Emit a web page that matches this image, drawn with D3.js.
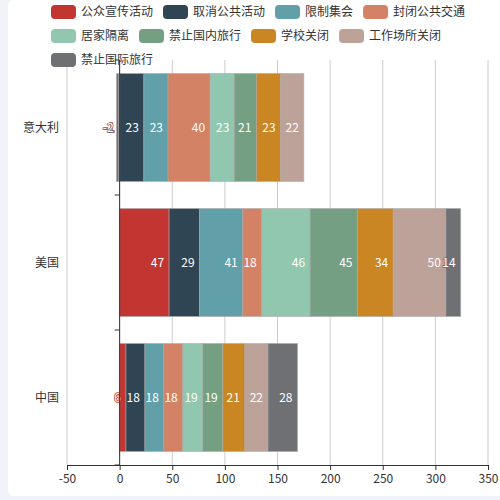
<!DOCTYPE html>
<html>
<head>
<meta charset="utf-8">
<script src="https://cdn.jsdelivr.net/npm/d3@7"></script>
<style>
  html, body { margin: 0; padding: 0; background: #f2f3f8; }
  svg { display: block; }
  text { font-family: "Noto Sans CJK SC", "Noto Sans", sans-serif; }
</style>
</head>
<body>
<div id="chart"></div>
<script>
// categories (bottom to top, like the category axis)
const countries = ['中国', '美国', '意大利'];

const seriesNames = ['公众宣传活动', '取消公共活动', '限制集会', '封闭公共交通',
  '居家隔离', '禁止国内旅行', '学校关闭', '工作场所关闭', '禁止国际旅行'];

// values per series, in order 中国, 美国, 意大利
const publicity     = [6, 47, -1];
const cancelEvents  = [18, 29, 23];
const limitGather   = [18, 41, 23];
const closeTransit  = [18, 18, 40];
const stayHome      = [19, 46, 23];
const domesticBan   = [19, 45, 21];
const schoolClose   = [21, 34, 23];
const workClose     = [22, 50, 22];
const intlBan       = [28, 14, -2];

const seriesValues = [publicity, cancelEvents, limitGather, closeTransit,
  stayHome, domesticBan, schoolClose, workClose, intlBan];

const xTicks = [-50, 0, 50, 100, 150, 200, 250, 300, 350];

const colors = ['#c23531', '#2f4554', '#61a0a8', '#d48265', '#91c7ae',
  '#749f83', '#ca8622', '#bda29a', '#6e7074'];

const W = 500, H = 500;
const grid = { left: 67, right: 488, top: 60, bottom: 465 };

const svg = d3.select('#chart').append('svg')
  .attr('width', W)
  .attr('height', H);

// card background
svg.append('rect')
  .attr('x', 8).attr('y', 0)
  .attr('width', 530).attr('height', 496)
  .attr('rx', 6)
  .attr('fill', '#fff');

const x = d3.scaleLinear()
  .domain([-50, 350])
  .range([grid.left, grid.right]);

const y = d3.scaleBand()
  .domain(countries.slice().reverse())
  .range([grid.top, grid.bottom])
  .paddingInner(0.2)
  .paddingOuter(0.1);

// vertical grid lines
svg.append('g')
  .selectAll('line')
  .data(xTicks)
  .enter()
  .append('line')
  .attr('x1', d => x(d)).attr('x2', d => x(d))
  .attr('y1', grid.top).attr('y2', grid.bottom)
  .attr('stroke', '#ccc')
  .attr('stroke-width', 1);

// stack: positives from 0 to the right, negatives from 0 to the left
const bars = [];
countries.forEach((c, ci) => {
  let pos = 0, neg = 0;
  seriesValues.forEach((vals, si) => {
    const v = vals[ci];
    let a, b;
    if (v >= 0) { a = pos; b = pos + v; pos = b; }
    else { a = neg + v; b = neg; neg = a; }
    bars.push({ country: c, series: si, value: v, x0: a, x1: b });
  });
});

svg.append('g')
  .selectAll('rect')
  .data(bars)
  .enter()
  .append('rect')
  .attr('x', d => x(d.x0))
  .attr('y', d => y(d.country))
  .attr('width', d => x(d.x1) - x(d.x0))
  .attr('height', y.bandwidth())
  .attr('fill', d => colors[d.series])
  .attr('stroke', 'rgba(170,170,170,0.55)')
  .attr('stroke-width', 1);

// labels, insideRight
svg.append('g')
  .selectAll('text')
  .data(bars)
  .enter()
  .append('text')
  .attr('x', d => x(d.x1) - 5)
  .attr('y', d => y(d.country) + y.bandwidth() / 2)
  .attr('dy', '0.35em')
  .attr('text-anchor', 'end')
  .attr('font-size', 12)
  .attr('fill', '#fff')
  .attr('stroke', d => colors[d.series])
  .attr('stroke-width', 1.5)
  .attr('paint-order', 'stroke')
  .text(d => d.value);

// x axis
const xAxis = svg.append('g')
  .attr('transform', `translate(0,${grid.bottom})`)
  .call(d3.axisBottom(x).tickValues(xTicks).tickFormat(d => String(d))
    .tickSize(5).tickSizeOuter(0).tickPadding(4));
xAxis.select('.domain').attr('stroke', '#333');
xAxis.selectAll('.tick line').attr('stroke', '#333');
xAxis.selectAll('.tick text')
  .attr('fill', '#333')
  .attr('font-size', 12)
  .style('font-family', '"Noto Sans CJK SC", sans-serif');

// y axis line on zero
svg.append('line')
  .attr('x1', x(0)).attr('x2', x(0))
  .attr('y1', grid.top).attr('y2', grid.bottom)
  .attr('stroke', '#333');

// category ticks at band boundaries
const bounds = [grid.top].concat(y.domain().map(c => y(c) + y.bandwidth() + y.step() * y.paddingInner() / 2));
svg.append('g')
  .selectAll('line')
  .data(bounds)
  .enter()
  .append('line')
  .attr('x1', x(0) - 5).attr('x2', x(0))
  .attr('y1', d => d).attr('y2', d => d)
  .attr('stroke', '#333');

// category labels
svg.append('g')
  .selectAll('text')
  .data(countries)
  .enter()
  .append('text')
  .attr('x', grid.left - 8)
  .attr('y', d => y(d) + y.bandwidth() / 2)
  .attr('dy', '0.35em')
  .attr('text-anchor', 'end')
  .attr('font-size', 12)
  .attr('fill', '#333')
  .text(d => d);

// legend, wrapping rows
const legend = svg.append('g');
const legendLeft = 51, legendMax = 490, rowH = 24;
let lx = legendLeft, ly = 12;
seriesNames.forEach((name, i) => {
  const g = legend.append('g');
  g.append('rect')
    .attr('width', 25).attr('height', 14)
    .attr('rx', 4)
    .attr('fill', colors[i]);
  const t = g.append('text')
    .attr('x', 30).attr('y', 7)
    .attr('dy', '0.35em')
    .attr('font-size', 12)
    .attr('fill', '#333')
    .text(name);
  const w = 30 + t.node().getComputedTextLength();
  if (lx + w > legendMax) { lx = legendLeft; ly += rowH; }
  g.attr('transform', `translate(${lx},${ly - 7})`);
  lx += w + 10;
});
</script>
</body>
</html>
